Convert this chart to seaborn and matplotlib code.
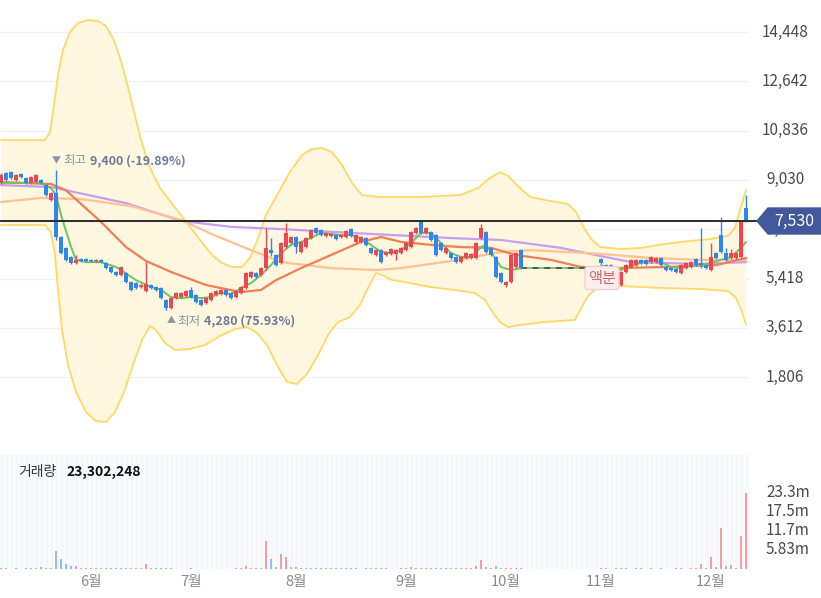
import numpy as np
import pandas as pd
import seaborn as sns
import matplotlib.pyplot as plt
from matplotlib.patches import Polygon
from matplotlib.transforms import blended_transform_factory

nan = np.nan

# daily OHLC (trading halt for the stock split -> nan)
opens = [8920, 9280, 9320, 9030, 9250, 9100, 8920, 8950, 9030, 8840,
         8290, 8550, 6940, 6540, 6210, 5990, 6130, 6130, 6110, 6050,
         6100, 5990, 5840, 5660, 5550, 5620, 5290, 5250, 5110, 4960,
         5180, 5110, 5070, 4630, 4340, 4700, 4740, 4780, 5000, 4810,
         4630, 4520, 4630, 4810, 4850, 5000, 4890, 4740, 4890, 5070,
         5470, 5620, 5550, 5800, 6460, 6280, 5990, 6570, 6720, 6940,
         6390, 6570, 6900, 7270, 7190, 6970, 6970, 7010, 6940, 6940,
         7230, 6750, 6750, 6900, 6540, 6280, 6460, 6280, 6320, 6320,
         6350, 6460, 6570, 7080, 7490, 7080, 7120, 7010, 6720, 6350,
         6350, 6210, 6030, 6170, 6170, 6170, 6900, 7120, 6540, 6210,
         5620, 5180, 5290, 5840, 6460, nan, nan, nan, nan, nan,
         nan, nan, nan, nan, nan, nan, nan, nan, nan, nan,
         6130, 5910, 5910, 5800, 5180, 5660, 5840, 5910, 6100, 6100,
         6030, 6030, 6170, 5840, 5800, 5770, 5620, 5800, 5840, 6130,
         6000, 5910, 5730, 6350, 7010, 6350, 6170, 6170, 6210, 8000]
highs = [9280, 9330, 9350, 9260, 9300, 9150, 9180, 9250, 9080, 8880,
         8600, 9400, 6980, 6580, 6250, 6280, 6170, 6170, 6150, 6150,
         6140, 6030, 5880, 5700, 5880, 5660, 5330, 5290, 5220, 6020,
         5220, 5150, 5110, 4670, 4740, 4930, 4930, 5000, 5110, 4850,
         4670, 4740, 4930, 5000, 5040, 5040, 4930, 5000, 5150, 5660,
         5700, 5660, 5840, 7270, 6900, 6320, 6760, 7450, 6980, 6980,
         6790, 6940, 7230, 7310, 7230, 7120, 7090, 7050, 7050, 7200,
         7270, 7050, 6980, 6940, 6580, 6500, 6500, 6430, 6540, 6500,
         6580, 6760, 7160, 7310, 7530, 7310, 7160, 7050, 6760, 6580,
         6390, 6250, 6250, 6390, 6360, 6760, 7420, 7160, 6580, 6250,
         5660, 5330, 6320, 6390, 6500, nan, nan, nan, nan, nan,
         nan, nan, nan, nan, nan, nan, nan, nan, nan, nan,
         6170, 5950, 5950, 5840, 5700, 5950, 6140, 6140, 6140, 6140,
         6250, 6210, 6210, 5880, 5840, 5810, 5950, 6030, 6070, 6170,
         7270, 5950, 6720, 6390, 7670, 6540, 6500, 6390, 7530, 8480]
lows = [8880, 9000, 9080, 9000, 9110, 8880, 8880, 8920, 8880, 8440,
        8250, 6830, 6300, 6060, 5950, 5950, 6020, 6030, 6020, 6010,
        5990, 5760, 5620, 5510, 5510, 5250, 4960, 5030, 5070, 4920,
        5030, 4960, 4660, 4280, 4300, 4660, 4700, 4740, 4700, 4520,
        4410, 4480, 4590, 4770, 4810, 4770, 4660, 4700, 4850, 5030,
        5440, 5430, 5510, 5730, 6240, 5870, 5950, 6530, 6680, 6350,
        6350, 6530, 6860, 7040, 6970, 6930, 6930, 6830, 6900, 6900,
        6930, 6710, 6710, 6610, 6310, 6240, 5990, 6240, 6280, 6100,
        6310, 6420, 6530, 7040, 7040, 7040, 6790, 6240, 6420, 6310,
        6130, 5990, 5990, 6130, 6130, 6130, 6860, 6350, 6240, 5440,
        5250, 5110, 5250, 5800, 5760, nan, nan, nan, nan, nan,
        nan, nan, nan, nan, nan, nan, nan, nan, nan, nan,
        5950, 5760, 5760, 5510, 5140, 5620, 5800, 5870, 5950, 5910,
        5990, 5990, 5870, 5690, 5690, 5620, 5580, 5760, 5800, 5870,
        5800, 5760, 5690, 6130, 6350, 6060, 6130, 6130, 6170, 7490]
closes = [9210, 9030, 9100, 9210, 9140, 8920, 9140, 9210, 8920, 8480,
          8550, 6940, 6350, 6100, 5990, 6100, 6060, 6070, 6060, 6110,
          6030, 5800, 5660, 5550, 5840, 5290, 5000, 5070, 5180, 5220,
          5070, 5000, 4700, 4340, 4700, 4890, 4890, 4960, 4740, 4560,
          4450, 4700, 4890, 4960, 5000, 4810, 4700, 4960, 5110, 5620,
          5660, 5470, 5800, 6540, 6350, 5910, 6720, 7080, 6940, 6570,
          6750, 6900, 7190, 7080, 7010, 7080, 7050, 6870, 7010, 7160,
          6970, 7010, 6940, 6650, 6350, 6460, 6030, 6390, 6500, 6460,
          6540, 6720, 7120, 7270, 7080, 7270, 6830, 6280, 6460, 6540,
          6170, 6030, 6210, 6350, 6320, 6720, 7270, 6390, 6280, 5480,
          5290, 5290, 6280, 6350, 5800, nan, nan, nan, nan, nan,
          nan, nan, nan, nan, nan, nan, nan, nan, nan, nan,
          5990, 5800, 5800, 5550, 5660, 5910, 6100, 6100, 5990, 5950,
          6210, 6170, 5910, 5730, 5730, 5660, 5910, 5990, 6030, 5910,
          5930, 5800, 6210, 6170, 6390, 6100, 6350, 6350, 7490, 7530]
# volume in millions of shares
volumes = [0.2, 0.2, 0.15, 0.2, 0.15, 0.2, 0.2, 0.25, 0.6, 0.4,
           0.3, 5.5, 3.1, 1.4, 1.0, 1.0, 0.3, 0.2, 0.2, 0.2,
           0.2, 0.25, 0.2, 0.2, 0.25, 0.2, 0.25, 0.2, 0.3, 1.4,
           0.3, 0.2, 0.2, 0.3, 0.2, 0.15, 0.15, 0.15, 0.2, 0.15,
           0.1, 0.1, 0.1, 0.1, 0.1, 0.1, 0.15, 0.3, 0.3, 1.0,
           0.4, 0.2, 0.3, 8.7, 3.2, 0.7, 4.7, 3.7, 0.5, 0.5,
           0.3, 0.4, 0.4, 0.3, 0.3, 0.2, 0.2, 0.2, 0.2, 0.3,
           0.2, 0.2, 0.15, 0.2, 0.3, 0.2, 0.3, 0.2, 0.15, 0.15,
           0.2, 0.2, 0.5, 0.3, 0.3, 0.2, 0.3, 0.4, 0.3, 0.2,
           0.2, 0.2, 0.2, 0.2, 0.2, 1.0, 2.8, 0.6, 0.4, 0.8,
           0.4, 0.3, 0.3, 0.3, 0.3, nan, nan, nan, nan, nan,
           nan, nan, nan, nan, nan, nan, nan, nan, nan, nan,
           0.3, 0.2, 0.15, 0.2, 0.3, 0.2, 0.15, 0.3, 0.2, 0.15,
           0.2, 0.15, 0.2, 0.1, 0.1, 0.3, 0.2, 0.15, 0.2, 0.2,
           1.6, 0.2, 3.6, 0.6, 12.6, 0.8, 1.2, 0.4, 10.2, 23.302248]

# moving averages / bollinger band (day index, price)
ma5_x = [0, 8, 10, 11, 12, 13, 14, 15, 17, 20, 23, 24, 27, 30, 32, 34, 36, 38, 40, 42, 44, 46, 48, 50,
         52, 54, 56, 58, 60, 62, 64, 66, 68, 70, 72, 74, 76, 78, 80, 82, 84, 86, 88, 90, 92, 94, 96,
         97, 98, 100, 102, 104]
ma5_p = [8920, 8920, 8730, 8480, 7750, 7160, 6580, 6100, 6020, 6020, 5840, 5730, 5360, 5110, 5000,
         4740, 4700, 4740, 4700, 4740, 4890, 4850, 5070, 5250, 5550, 5910, 6350, 6650, 6760, 6900,
         7090, 7050, 7010, 7010, 6900, 6650, 6390, 6350, 6460, 6720, 7090, 7090, 6720, 6350, 6210,
         6210, 6570, 6650, 6390, 5840, 5730, 5800]
ma5_post_x = [120, 121, 124, 126, 130, 132, 134, 136, 138, 140, 142, 144, 146, 148, 149]
ma5_post_p = [5910, 5840, 5730, 5880, 6100, 6020, 5840, 5800, 5880, 5910, 5990, 6100, 6210, 6540, 6760]
ma20_x = [0, 10, 13, 16, 20, 25, 29, 34, 41, 48, 52, 55, 60, 66, 72, 76, 80, 86, 92, 98, 103, 110,
          116, 123, 133, 143, 149]
ma20_p = [8950, 8880, 8650, 8150, 7490, 6570, 6060, 5660, 5180, 4920, 5000, 5360, 5800, 6280, 6760,
          6940, 6760, 6650, 6570, 6540, 6280, 6100, 5840, 5800, 5840, 5910, 6170]
ma60_x = [0, 8, 16, 26, 36, 43, 50, 56, 66, 75, 80, 90, 100, 106, 120, 130, 140, 149]
ma60_p = [8220, 8370, 8330, 8070, 7560, 6980, 6460, 6020, 5800, 5730, 5800, 6060, 6390, 6460, 6320,
          6170, 6100, 6100]
ma120_x = [0, 10, 25, 36, 46, 56, 70, 90, 100, 112, 120, 126, 140, 149]
ma120_p = [8840, 8770, 8180, 7530, 7310, 7230, 7090, 6900, 6830, 6540, 6240, 6020, 5950, 6020]
bb_up_x = [0, 8.8, 9.8, 10.6, 11.4, 12.4, 13.8, 15.4, 17.4, 19.4, 21.0, 22.4, 23.8, 25.2, 26.6, 28.0,
           29.8, 31.8, 34.4, 37.2, 39.8, 42.2, 44.2, 46.2, 48.2, 49.8, 51.4, 53.0, 55.2, 57.8, 60.2,
           62.2, 64.2, 66.2, 68.2, 70.2, 72.2, 75.8, 83.8, 91.8, 95.4, 97.8, 99.8, 101.4, 103.4, 105.8,
           109.8, 113.4, 115.0, 116.6, 118.2, 119.8, 123.8, 127.8, 132.8, 137.8, 141.8, 145.4, 146.8,
           147.8, 149.0]
bb_up_p = [10490, 10490, 10785, 11774, 12873, 13789, 14448, 14778, 14888, 14851, 14668, 14228, 13496,
           12580, 11518, 10492, 9466, 8734, 8111, 7452, 6829, 6280, 5987, 5840, 5840, 6170, 6902, 7745,
           8477, 9320, 9943, 10163, 10199, 10052, 9576, 8917, 8477, 8404, 8404, 8477, 8734, 9100, 9320,
           9173, 8807, 8404, 8257, 8148, 7855, 7268, 6829, 6573, 6500, 6536, 6683, 6792, 6866, 6976,
           7268, 7928, 8661]
bb_lo_x = [0, 8.8, 10.0, 10.8, 11.4, 12.2, 13.4, 15.0, 17.0, 19.0, 21.0, 22.8, 24.6, 26.4, 28.2, 29.8,
           31.0, 32.8, 34.8, 37.8, 40.8, 43.8, 46.8, 49.2, 51.2, 53.2, 55.2, 57.2, 59.2, 61.2, 63.4,
           65.4, 67.4, 69.8, 71.8, 73.4, 75.0, 76.2, 78.2, 81.8, 85.8, 90.8, 94.8, 96.8, 98.4, 99.8,
           101.4, 103.8, 108.8, 114.8, 115.8, 117.4, 119.4, 123.8, 131.8, 139.8, 145.4, 147.0, 148.2,
           149.0]
bb_lo_p = [7378, 7378, 7122, 6280, 4997, 3532, 2250, 1261, 528, 198, 162, 528, 1261, 2250, 3166, 3679,
           3532, 3056, 2800, 2836, 2983, 3313, 3569, 3642, 3423, 2983, 2250, 1627, 1554, 1921, 2616,
           3349, 3826, 4008, 4448, 5071, 5620, 5547, 5364, 5254, 5107, 4997, 4888, 4631, 4155, 3826,
           3642, 3716, 3826, 3899, 4265, 4778, 5107, 5144, 5071, 5034, 4961, 4704, 4191, 3716]

price_ticks = [14448, 12642, 10836, 9030, 7224, 5418, 3612, 1806]
vol_ticks = [23.3, 17.5, 11.7, 5.83]
vol_tick_labels = ['23.3m', '17.5m', '11.7m', '5.83m']
month_pos = [18, 38, 59, 81, 101, 120, 142]
month_labels = ['6월', '7월', '8월', '9월', '10월', '11월', '12월']
last_price = 7530
halt_price = 5800

RED = '#f0444f'
BLUE = '#2e86f0'

sns.set_theme(style='white')
plt.rcParams['font.family'] = ['Noto Sans CJK KR', 'DejaVu Sans']

W, H = 821, 598
fig = plt.figure(figsize=(W / 100, H / 100), dpi=100)
fig.patch.set_facecolor('white')


def fx(px):
    return px / W


def fy(py):
    return 1 - py / H


ax = fig.add_axes([0, fy(445), fx(750), 445 / H])
vax = fig.add_axes([0, fy(569), fx(750), 114 / H])
for a in (ax, vax):
    a.set_xlim(-0.2, 149.8)
    a.set_xticks([])
    a.set_yticks([])
    for s in a.spines.values():
        s.set_visible(False)
ax.set_ylim(-679, 15620)
vax.set_ylim(0, 34.9)

# grid
for v in price_ticks:
    ax.axhline(v, color='#f0f2f7', lw=1, zorder=0)

# bollinger band
ax.fill(np.r_[bb_up_x, bb_lo_x[::-1]], np.r_[bb_up_p, bb_lo_p[::-1]],
        color='#fff7df', lw=0, zorder=1)
for bx, bp in ((bb_up_x, bb_up_p), (bb_lo_x, bb_lo_p)):
    sns.lineplot(x=bx, y=bp, ax=ax, color='#ffd866', linewidth=1.3, zorder=2)

# moving averages
sns.lineplot(x=ma120_x, y=ma120_p, ax=ax, color='#c89ff0', linewidth=1.6, zorder=3)
sns.lineplot(x=ma60_x, y=ma60_p, ax=ax, color='#ffc291', linewidth=1.6, zorder=3)
sns.lineplot(x=ma20_x, y=ma20_p, ax=ax, color='#f67d52', linewidth=1.6, zorder=3)
sns.lineplot(x=ma5_x, y=ma5_p, ax=ax, color='#68c75c', linewidth=1.4, zorder=4)
sns.lineplot(x=ma5_post_x, y=ma5_post_p, ax=ax, color='#68c75c', linewidth=1.4, zorder=4)
ax.plot([104, 120], [halt_price, halt_price], color='#68c75c', lw=1.3, zorder=4)
ax.plot([104, 120], [halt_price, halt_price], color='#555555', lw=1.4, dashes=(3, 3), zorder=4)

# candles
df = pd.DataFrame({'o': opens, 'h': highs, 'l': lows, 'c': closes, 'v': volumes})
df['prev'] = df['c'].ffill().shift(1)
cd = df.dropna(subset=['o'])
col = np.where(cd['c'] > cd['o'], RED, BLUE)
ax.vlines(cd.index, cd['l'], cd['h'], colors=col, lw=1, zorder=5)
body = (cd['c'] - cd['o']).abs().clip(lower=30)
ax.bar(cd.index, body, bottom=cd[['o', 'c']].min(axis=1), width=0.7, color=col, lw=0, zorder=6)

# current price line + flag
ax.plot([-0.2, 151.2], [last_price, last_price], color='#2a2a2a', lw=1.4, clip_on=False, zorder=8)
flag = Polygon([(fx(757), fy(221)), (fx(768), fy(208)), (fx(821), fy(208)),
                (fx(821), fy(234)), (fx(768), fy(234))],
               closed=True, transform=fig.transFigure, color='#41599a', zorder=5)
fig.add_artist(flag)
fig.text(fx(794), fy(221), f'{last_price:,}', color='white', fontsize=11.5,
         ha='center', va='center', zorder=6)

# price labels
tp = blended_transform_factory(fig.transFigure, ax.transData)
for v in price_ticks:
    ax.text(fx(785), v, f'{v:,}', transform=tp, ha='center', va='center',
            fontsize=11, color='#4a4a4a')

# high / low annotations
LBL = '#8a93a6'
NUM = '#6c7a9c'
fig.text(fx(56), fy(161), '▼', fontsize=6.5, color=LBL, ha='center', va='center')
fig.text(fx(63), fy(161), '최고', fontsize=9, color=LBL, va='center')
fig.text(fx(90), fy(161), '9,400 (-19.89%)', fontsize=9, color=NUM, va='center', fontweight='bold')
fig.text(fx(171), fy(321), '▲', fontsize=6.5, color=LBL, ha='center', va='center')
fig.text(fx(177), fy(321), '최저', fontsize=9, color=LBL, va='center')
fig.text(fx(204), fy(321), '4,280 (75.93%)', fontsize=9, color=NUM, va='center', fontweight='bold')
fig.text(fx(602), fy(278), '액분', fontsize=11, color='#d06868', ha='center', va='center',
         zorder=9, bbox=dict(boxstyle='round,pad=0.2', fc='#fdeeee', ec='#f3cdcd', lw=1))

# volume panel
vax.set_facecolor('#f6f7fb')
vax.vlines(np.arange(-0.5, 150.5, 1), 0, 34.9, color='white', lw=1, zorder=0)
vd = df.dropna(subset=['v'])
vcol = np.where(vd['c'] > vd['prev'], '#f59da2', '#8fbff8')
vax.bar(vd.index, vd['v'], width=0.45, color=vcol, lw=0, zorder=2)

tv = blended_transform_factory(fig.transFigure, vax.transData)
for v, lab in zip(vol_ticks, vol_tick_labels):
    vax.text(fx(788), v, lab, transform=tv, ha='center', va='center',
             fontsize=11, color='#4a4a4a')

fig.text(fx(18), fy(472), '거래량', fontsize=10, color='#333333', va='center')
fig.text(fx(66), fy(472), f'{int(round(volumes[-1] * 1e6)):,}', fontsize=10,
         color='#111111', va='center', fontweight='bold')

tm = blended_transform_factory(vax.transData, fig.transFigure)
for p, lab in zip(month_pos, month_labels):
    vax.text(p, fy(582), lab, transform=tm, ha='center', va='center',
             fontsize=10.5, color='#8a8a8a')

fig.savefig('out.png', dpi=100)
